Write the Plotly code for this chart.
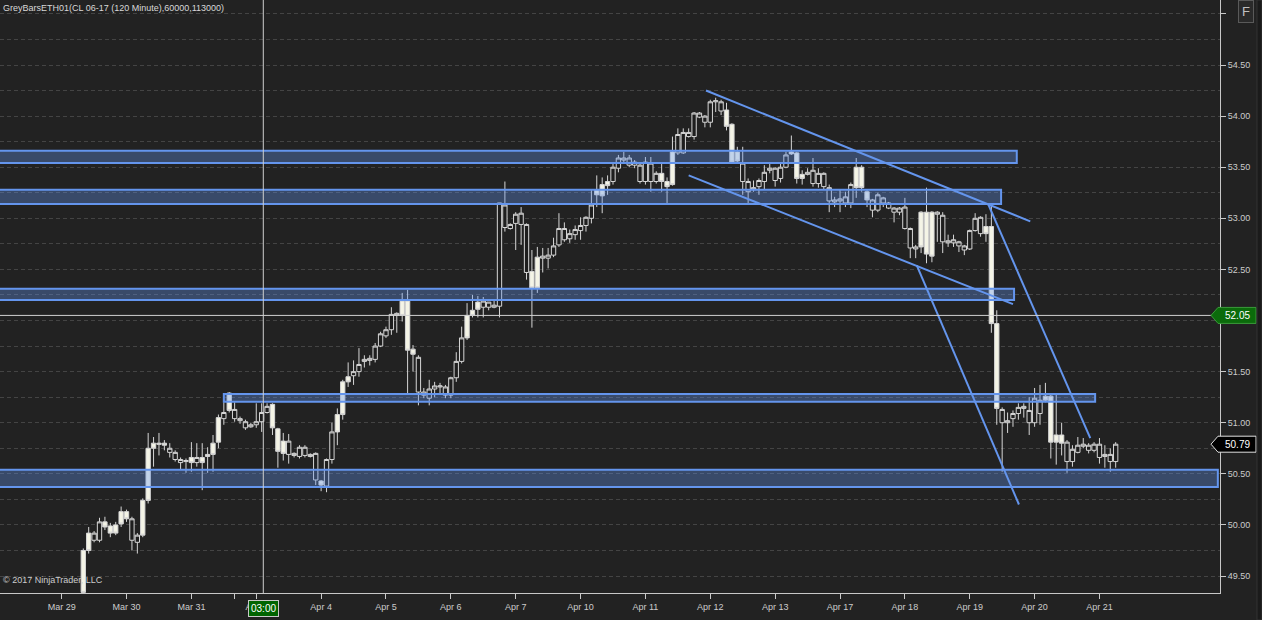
import plotly.graph_objects as go

# CL 06-17, 120 minute bars, Mar 29 - Apr 21 2017
opens = [49.75, 49.92, 49.85, 49.85, 50.03, 49.99, 50.00, 50.13, 50.13, 49.85,
         49.83, 50.24, 50.75, 50.80, 50.80, 50.80, 50.71, 50.64, 50.61, 50.62,
         50.66, 50.61, 50.66, 50.69, 50.80, 51.05, 51.04, 51.29, 51.04, 51.02,
         50.95, 50.96, 50.98, 51.01, 51.10, 51.18, 50.94, 50.82, 50.69, 50.68,
         50.67, 50.68, 50.67, 50.44, 50.43, 50.38, 50.64, 51.08, 51.40, 51.45,
         51.46, 51.50, 51.60, 51.61, 51.62, 51.75, 51.85, 51.91, 52.05, 52.19,
         52.19, 51.72, 51.30, 51.27, 51.24, 51.33, 51.35, 51.27, 51.27, 51.44,
         51.60, 52.05, 52.10, 52.18, 52.13, 52.13, 52.13, 52.14, 52.91, 52.90,
         52.95, 52.94, 52.47, 52.48, 52.62, 52.61, 52.61, 52.64, 52.74, 52.79,
         52.80, 52.84, 52.88, 52.93, 53.00, 53.28, 53.33, 53.36, 53.36, 53.49,
         53.57, 53.52, 53.52, 53.36, 53.36, 53.36, 53.36, 53.44, 53.36, 53.65,
         53.64, 53.64, 53.80, 53.80, 53.99, 53.94, 53.94, 54.14, 54.05, 54.06,
         53.92, 53.65, 53.36, 53.26, 53.28, 53.31, 53.36, 53.47, 53.37, 53.39,
         53.50, 53.65, 53.64, 53.43, 53.43, 53.34, 53.34, 53.31, 53.17, 53.16,
         53.17, 53.15, 53.15, 53.50, 53.50, 53.26, 53.08, 53.08, 53.15, 53.10,
         53.06, 53.06, 52.90, 52.71, 52.70, 53.06, 53.06, 53.06, 53.04, 52.77,
         52.76, 52.76, 52.73, 52.69, 52.70, 52.88, 52.85, 52.92, 52.92, 51.97,
         51.00, 51.00, 51.04, 51.09, 51.14, 51.00, 51.00, 51.09, 51.26, 51.26,
         50.88, 50.88, 50.62, 50.62, 50.71, 50.77, 50.73, 50.73, 50.66, 50.67,
         50.62, 50.62]
highs = [49.77, 49.98, 49.94, 50.07, 50.08, 50.02, 50.03, 50.18, 50.15, 50.08,
         49.92, 50.26, 50.90, 50.86, 50.90, 50.83, 50.80, 50.73, 50.66, 50.65,
         50.81, 50.80, 50.80, 50.76, 50.88, 51.08, 51.20, 51.30, 51.20, 51.06,
         51.03, 51.00, 51.19, 51.19, 51.19, 51.19, 50.95, 50.90, 50.89, 50.71,
         50.78, 50.78, 50.70, 50.71, 50.44, 50.65, 51.00, 51.14, 51.42, 51.59,
         51.61, 51.73, 51.66, 51.66, 51.78, 51.89, 51.94, 52.13, 52.08, 52.27,
         52.30, 51.76, 51.66, 51.34, 51.42, 51.40, 51.39, 51.37, 51.45, 51.69,
         51.94, 52.17, 52.25, 52.24, 52.23, 52.18, 52.20, 53.15, 53.36, 52.95,
         53.06, 53.11, 52.95, 52.69, 52.72, 52.71, 52.71, 52.81, 53.05, 52.96,
         52.89, 52.93, 53.01, 53.02, 53.28, 53.42, 53.40, 53.42, 53.54, 53.62,
         53.65, 53.62, 53.57, 53.55, 53.60, 53.60, 53.46, 53.55, 53.40, 53.80,
         53.88, 53.88, 53.88, 54.04, 54.04, 54.01, 54.16, 54.18, 54.16, 54.13,
         53.93, 53.70, 53.70, 53.39, 53.37, 53.39, 53.52, 53.55, 53.50, 53.55,
         53.65, 53.81, 53.65, 53.47, 53.49, 53.59, 53.49, 53.45, 53.33, 53.21,
         53.28, 53.26, 53.35, 53.59, 53.52, 53.28, 53.19, 53.25, 53.21, 53.16,
         53.11, 53.11, 53.20, 52.91, 52.74, 53.07, 53.30, 53.07, 53.07, 53.06,
         52.84, 52.84, 52.78, 52.74, 52.89, 53.05, 53.02, 53.04, 53.13, 52.10,
         51.15, 51.10, 51.12, 51.19, 51.19, 51.25, 51.34, 51.37, 51.39, 51.29,
         51.29, 51.00, 50.83, 50.78, 50.86, 50.85, 50.80, 50.81, 50.85, 50.78,
         50.75, 50.81]
lows = [49.33, 49.72, 49.83, 49.83, 49.95, 49.88, 49.90, 49.98, 50.03, 49.75,
        49.72, 49.88, 50.21, 50.57, 50.68, 50.73, 50.66, 50.62, 50.54, 50.51,
        50.52, 50.57, 50.34, 50.51, 50.52, 50.75, 50.98, 51.10, 51.01, 50.99,
        50.93, 50.95, 50.95, 50.91, 51.09, 50.88, 50.56, 50.63, 50.60, 50.66,
        50.65, 50.66, 50.66, 50.39, 50.33, 50.32, 50.60, 50.78, 51.03, 51.35,
        51.37, 51.45, 51.54, 51.56, 51.59, 51.74, 51.83, 51.86, 51.88, 51.99,
        51.29, 51.50, 51.17, 51.24, 51.17, 51.25, 51.29, 51.24, 51.24, 51.40,
        51.58, 51.81, 52.03, 52.03, 52.03, 52.10, 52.12, 52.03, 52.87, 52.89,
        52.69, 52.74, 52.40, 51.93, 52.27, 52.47, 52.51, 52.62, 52.72, 52.77,
        52.76, 52.79, 52.79, 52.87, 52.95, 53.11, 53.05, 53.23, 53.33, 53.45,
        53.54, 53.50, 53.49, 53.34, 53.33, 53.26, 53.34, 53.26, 53.15, 53.32,
        53.62, 53.63, 53.79, 53.77, 53.98, 53.89, 53.89, 54.04, 54.01, 53.86,
        53.54, 53.55, 53.23, 53.15, 53.26, 53.23, 53.28, 53.44, 53.31, 53.35,
        53.49, 53.62, 53.34, 53.33, 53.42, 53.31, 53.30, 53.28, 53.06, 53.11,
        53.06, 53.11, 53.10, 53.20, 53.26, 53.11, 53.01, 53.06, 53.11, 53.09,
        52.96, 53.03, 52.89, 52.61, 52.61, 52.66, 52.56, 52.57, 52.77, 52.66,
        52.72, 52.72, 52.67, 52.64, 52.69, 52.87, 52.82, 52.77, 51.88, 50.98,
        50.52, 50.90, 50.96, 51.03, 51.05, 50.88, 50.96, 50.98, 51.20, 50.65,
        50.59, 50.68, 50.51, 50.57, 50.70, 50.75, 50.70, 50.71, 50.60, 50.56,
        50.52, 50.56]
closes = [49.34, 49.75, 49.92, 50.03, 49.98, 49.92, 49.92, 50.01, 50.06, 50.06,
          49.90, 49.90, 50.24, 50.75, 50.79, 50.78, 50.75, 50.71, 50.64, 50.63,
          50.61, 50.66, 50.61, 50.67, 50.69, 50.81, 51.10, 51.12, 51.13, 51.04,
          51.01, 50.98, 51.01, 51.10, 51.16, 50.95, 50.72, 50.70, 50.82, 50.70,
          50.76, 50.76, 50.69, 50.70, 50.39, 50.64, 50.91, 50.91, 51.08, 51.40,
          51.50, 51.57, 51.62, 51.63, 51.75, 51.87, 51.91, 52.06, 52.07, 52.05,
          51.71, 51.67, 51.64, 51.30, 51.33, 51.36, 51.36, 51.35, 51.44, 51.60,
          51.83, 51.83, 52.05, 52.11, 52.19, 52.18, 52.15, 53.15, 53.13, 52.94,
          53.04, 53.05, 52.94, 52.32, 52.32, 52.63, 52.64, 52.73, 52.90, 52.90,
          52.85, 52.89, 52.93, 53.01, 53.13, 53.23, 53.22, 53.32, 53.50, 53.59,
          53.59, 53.59, 53.55, 53.52, 53.55, 53.54, 53.44, 53.36, 53.31, 53.33,
          53.82, 53.84, 53.84, 54.03, 54.03, 54.00, 54.14, 54.15, 54.14, 53.90,
          53.55, 53.56, 53.54, 53.36, 53.30, 53.37, 53.45, 53.49, 53.49, 53.50,
          53.62, 53.63, 53.39, 53.39, 53.45, 53.47, 53.44, 53.44, 53.30, 53.18,
          53.19, 53.21, 53.33, 53.30, 53.30, 53.18, 53.18, 53.23, 53.20, 53.15,
          53.10, 53.10, 53.11, 52.90, 52.72, 52.72, 52.65, 52.63, 53.06, 53.03,
          52.78, 52.79, 52.77, 52.73, 52.88, 53.00, 53.01, 52.85, 51.97, 51.14,
          51.13, 51.02, 51.09, 51.15, 51.16, 51.12, 51.24, 51.22, 51.22, 50.81,
          50.81, 50.80, 50.81, 50.74, 50.78, 50.79, 50.78, 50.79, 50.79, 50.69,
          50.69, 50.79]

bar_idx = list(range(len(opens)))

# day boundaries on the bar axis
day_ticks = [-4, 8, 20, 28, 32, 44, 56, 68, 80, 92, 104, 116, 128, 140, 152, 164, 176, 188]
day_labels = ["Mar 29", "Mar 30", "Mar 31", "", "Apr 3", "Apr 4", "Apr 5", "Apr 6", "Apr 7",
              "Apr 10", "Apr 11", "Apr 12", "Apr 13", "Apr 17", "Apr 18", "Apr 19", "Apr 20", "Apr 21"]

# price axis ticks (55.00 sits under the F button, 52.00 under the cursor tag)
price_ticks = [49.5, 50.0, 50.5, 51.0, 51.5, 52.0, 52.5, 53.0, 53.5, 54.0, 54.5, 55.0]
price_labels = ["49.50", "50.00", "50.50", "51.00", "51.50", "", "52.50", "53.00",
                "53.50", "54.00", "54.50", ""]

# support / resistance zones
zone_lo = [53.54, 53.14, 52.20, 51.205, 50.37]
zone_hi = [53.66, 53.28, 52.31, 51.28, 50.54]
zone_start = [-20, -20, -20, 26.0, -20]
zone_end = [172.7, 169.8, 172.2, 187.2, 209.9]

# trend lines (bar index, price)
trend_x0 = [115.2, 112.0, 154.2, 167.4]
trend_y0 = [54.25, 53.42, 52.54, 53.14]
trend_x1 = [175.2, 172.0, 173.1, 186.3]
trend_y1 = [52.97, 52.16, 50.20, 50.85]

cursor_bar = 33.3
cursor_price = 52.05
cursor_time = "03:00"
last_price = closes[-1]

Y_MIN, Y_MAX = 49.334, 55.136
X_MIN, X_MAX = -15.41, 210.3
PLOT_W, PLOT_H = 1220, 593

BG = "#222222"
TXT = "#cccccc"
BLUE = "#6495ED"
FONT = "Liberation Sans, Arial, sans-serif"

fig = go.Figure(go.Candlestick(
    x=bar_idx, open=opens, high=highs, low=lows, close=closes,
    increasing=dict(line=dict(color="#d6d6d6", width=1), fillcolor="#1e1e1e"),
    decreasing=dict(line=dict(color="#d6d6d6", width=1), fillcolor="#f4f4e6"),
    hoverinfo="skip",
))

shapes = []
for lo, hi, x0, x1 in zip(zone_lo, zone_hi, zone_start, zone_end):
    shapes.append(dict(type="rect", xref="x", yref="y", x0=x0, x1=x1, y0=lo, y1=hi,
                       fillcolor="rgba(100,149,237,0.35)", line=dict(color=BLUE, width=2),
                       layer="above"))
for x0, y0, x1, y1 in zip(trend_x0, trend_y0, trend_x1, trend_y1):
    shapes.append(dict(type="line", xref="x", yref="y", x0=x0, y0=y0, x1=x1, y1=y1,
                       line=dict(color=BLUE, width=2), layer="above"))

# crosshair
shapes.append(dict(type="line", xref="x", yref="paper", x0=cursor_bar, x1=cursor_bar, y0=0, y1=1,
                   line=dict(color="#d0d0d0", width=1), layer="above"))
shapes.append(dict(type="line", xref="x", yref="y", x0=X_MIN, x1=X_MAX, y0=cursor_price, y1=cursor_price,
                   line=dict(color="#d0d0d0", width=1), layer="above"))


def price_tag(price, fill, border):
    yc = (price - Y_MIN) / (Y_MAX - Y_MIN)
    h = 8 / PLOT_H
    xt, xl, xr = 1211 / PLOT_W, 1218 / PLOT_W, 1256 / PLOT_W
    path = (f"M {xt},{yc} L {xl},{yc + h} L {xr},{yc + h} "
            f"L {xr},{yc - h} L {xl},{yc - h} Z")
    return dict(type="path", xref="paper", yref="paper", path=path,
                fillcolor=fill, line=dict(color=border, width=1), layer="above")


shapes.append(price_tag(cursor_price, "#0b6b0b", "#3a9a3a"))
shapes.append(price_tag(last_price, "#000000", "#e0e0e0"))

# scrollbar strip at the right edge
shapes.append(dict(type="rect", xref="paper", yref="paper", x0=1257 / PLOT_W, x1=1262 / PLOT_W,
                   y0=-27 / PLOT_H, y1=1, fillcolor="#1b1b1b", line=dict(color="#333333", width=1),
                   layer="above"))

annotations = [
    dict(text="GreyBarsETH01(CL 06-17 (120 Minute),60000,113000)", xref="paper", yref="paper",
         x=0, y=1, xanchor="left", yanchor="top", xshift=1, yshift=-1, showarrow=False,
         font=dict(family=FONT, size=9, color="#d8d8d8")),
    dict(text="© 2017 NinjaTrader, LLC", xref="paper", yref="paper",
         x=0, y=1 - 580 / PLOT_H, xanchor="left", yanchor="middle", xshift=1, showarrow=False,
         font=dict(family=FONT, size=9, color=TXT)),
    dict(text=f"{cursor_price:.2f}", xref="paper", yref="y", x=1237 / PLOT_W, y=cursor_price,
         xanchor="center", yanchor="middle", showarrow=False,
         font=dict(family=FONT, size=10, color="#ffffff")),
    dict(text=f"{last_price:.2f}", xref="paper", yref="y", x=1237 / PLOT_W, y=last_price,
         xanchor="center", yanchor="middle", showarrow=False,
         font=dict(family=FONT, size=10, color="#ffffff")),
    dict(text=cursor_time, xref="x", yref="paper", x=cursor_bar, y=-15.5 / PLOT_H,
         xanchor="center", yanchor="middle", showarrow=False, bgcolor="#006400",
         bordercolor="#c8c8c8", borderwidth=1, borderpad=2,
         font=dict(family=FONT, size=10, color="#ffffff")),
    dict(text="F", xref="paper", yref="paper", x=1246 / PLOT_W, y=1 - 11 / PLOT_H,
         xanchor="center", yanchor="middle", showarrow=False, bgcolor="#2a2a2a",
         bordercolor="#5a5a5a", borderwidth=1, borderpad=3,
         font=dict(family=FONT, size=13, color="#c0c0c0")),
]

fig.update_layout(
    width=1262, height=620,
    margin=dict(l=0, r=42, t=0, b=27),
    paper_bgcolor=BG, plot_bgcolor=BG,
    showlegend=False,
    boxgap=0.2, boxgroupgap=0,
    shapes=shapes, annotations=annotations,
    font=dict(family=FONT, size=9, color=TXT),
    xaxis=dict(range=[X_MIN, X_MAX], tickmode="array", tickvals=day_ticks, ticktext=day_labels,
               ticks="outside", ticklen=5, tickcolor="#c8c8c8", showline=True, linecolor="#c8c8c8",
               showgrid=False, zeroline=False, rangeslider=dict(visible=False),
               tickfont=dict(family=FONT, size=9, color=TXT)),
    yaxis=dict(range=[Y_MIN, Y_MAX], side="right", tickmode="array", tickvals=price_ticks,
               ticktext=price_labels,
               ticks="outside", ticklen=5, tickcolor="#c8c8c8", showline=True, linecolor="#c8c8c8",
               showgrid=True, gridcolor="#444444", griddash="4px,3px", zeroline=False,
               minor=dict(tickmode="linear", tick0=49.5, dtick=0.25, showgrid=True,
                          gridcolor="#444444", griddash="4px,3px"),
               tickfont=dict(family=FONT, size=9, color=TXT)),
)

# the page body has a default 8px margin; drop it so the chart fills the window
fig.write_html("out.html", config={"displayModeBar": False},
               post_script="document.body.style.margin='0';"
                           "document.body.style.background='#222222';")
